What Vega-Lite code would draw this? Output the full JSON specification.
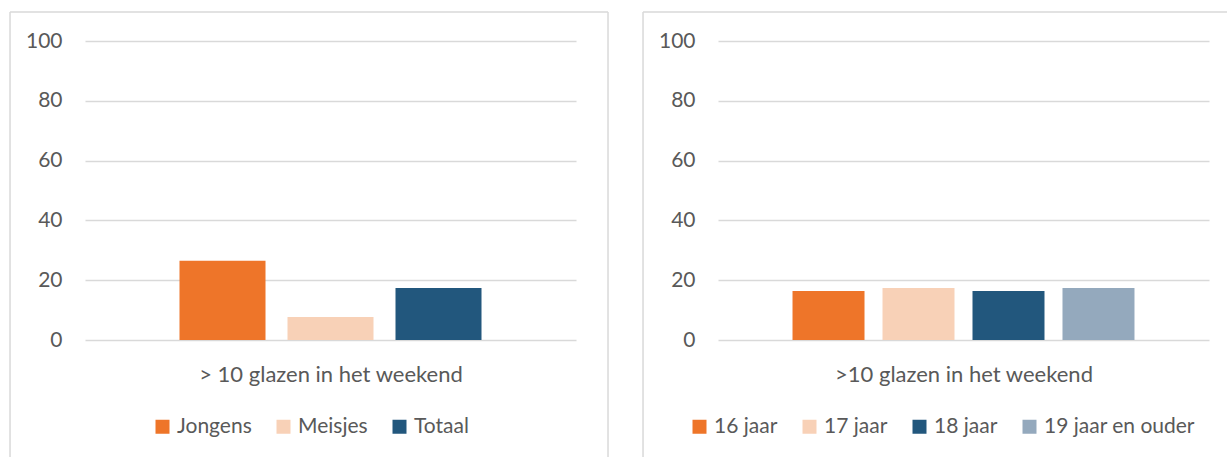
{
  "$schema": "https://vega.github.io/schema/vega-lite/v6.json",
  "padding": {"left": 9, "top": 11, "right": 0, "bottom": 0},
  "background": "white",
  "spacing": 33,
  "config": {
    "font": "Lato",
    "view": {"stroke": null},
    "axis": {"labelFont": "Lato", "labelColor": "#595959", "labelFontSize": 21, "ticks": false, "domain": false,
             "titleFont": "Lato", "titleColor": "#595959", "titleFontSize": 22, "titleFontWeight": "normal"},
    "legend": {"labelFont": "Lato", "labelColor": "#595959", "labelFontSize": 21}
  },
  "resolve": {"scale": {"color": "independent", "y": "independent"}, "legend": {"color": "independent"}},
  "hconcat": [
    {
      "width": 491,
      "height": 299,
      "resolve": {"scale": {"x": "independent"}},
      "layer": [
        {
          "data": {"values": [
            {"groep": "Jongens", "pct": 26.5},
            {"groep": "Meisjes", "pct": 7.7},
            {"groep": "Totaal", "pct": 17.4}
          ]},
          "mark": {"type": "bar"},
          "encoding": {
            "x": {"field": "groep", "type": "nominal", "sort": ["Jongens", "Meisjes", "Totaal"],
                  "title": "> 10 glazen in het weekend",
                  "scale": {"paddingOuter": 0.875, "paddingInner": 0.2037},
                  "axis": {"labels": false, "titlePadding": 24, "grid": false}},
            "y": {"field": "pct", "type": "quantitative", "title": null,
                  "scale": {"domain": [0, 100]},
                  "axis": {"values": [0, 20, 40, 60, 80, 100], "labelPadding": 23, "grid": true, "gridColor": "#d9d9d9", "gridWidth": 1.5}},
            "color": {"field": "groep", "type": "nominal", "sort": ["Jongens", "Meisjes", "Totaal"],
                      "scale": {"domain": ["Jongens", "Meisjes", "Totaal"], "range": ["#EE7529", "#F8D1B7", "#22577D"]},
                      "legend": {"orient": "none", "direction": "horizontal", "legendX": 67, "legendY": 375, "title": null,
                                 "symbolType": "square", "symbolSize": 196, "symbolStrokeWidth": 0, "labelOffset": 4, "columnPadding": 21}}
          }
        },
        {
          "data": {"values": [{}]},
          "mark": {"type": "rule", "color": "#d9d9d9", "strokeWidth": 1.5},
          "encoding": {
            "x": {"datum": -0.1527, "type": "quantitative", "scale": {"domain": [0, 1]}, "axis": null},
            "x2": {"datum": 1.0652},
            "y": {"datum": 109.7, "type": "quantitative"}
          }
        },
        {
          "data": {"values": [{}]},
          "mark": {"type": "rule", "color": "#d9d9d9", "strokeWidth": 1.5},
          "encoding": {
            "x": {"datum": -0.1527, "type": "quantitative", "scale": {"domain": [0, 1]}, "axis": null},
            "y": {"datum": 109.7, "type": "quantitative"},
            "y2": {"datum": -39.1}
          }
        },
        {
          "data": {"values": [{}]},
          "mark": {"type": "rule", "color": "#d9d9d9", "strokeWidth": 1.5},
          "encoding": {
            "x": {"datum": 1.0652, "type": "quantitative", "scale": {"domain": [0, 1]}, "axis": null},
            "y": {"datum": 109.7, "type": "quantitative"},
            "y2": {"datum": -39.1}
          }
        }
      ]
    },
    {
      "width": 491,
      "height": 299,
      "resolve": {"scale": {"x": "independent"}},
      "layer": [
        {
          "data": {"values": [
            {"groep": "16 jaar", "pct": 16.4},
            {"groep": "17 jaar", "pct": 17.4},
            {"groep": "18 jaar", "pct": 16.4},
            {"groep": "19 jaar en ouder", "pct": 17.4}
          ]},
          "mark": {"type": "bar"},
          "encoding": {
            "x": {"field": "groep", "type": "nominal", "sort": ["16 jaar", "17 jaar", "18 jaar", "19 jaar en ouder"],
                  "title": ">10 glazen in het weekend",
                  "scale": {"paddingOuter": 0.828, "paddingInner": 0.2},
                  "axis": {"labels": false, "titlePadding": 24, "grid": false}},
            "y": {"field": "pct", "type": "quantitative", "title": null,
                  "scale": {"domain": [0, 100]},
                  "axis": {"values": [0, 20, 40, 60, 80, 100], "labelPadding": 23, "grid": true, "gridColor": "#d9d9d9", "gridWidth": 1.5}},
            "color": {"field": "groep", "type": "nominal", "sort": ["16 jaar", "17 jaar", "18 jaar", "19 jaar en ouder"],
                      "scale": {"domain": ["16 jaar", "17 jaar", "18 jaar", "19 jaar en ouder"], "range": ["#EE7529", "#F8D1B7", "#22577D", "#94A9BD"]},
                      "legend": {"orient": "none", "direction": "horizontal", "legendX": -29, "legendY": 375, "title": null,
                                 "symbolType": "square", "symbolSize": 196, "symbolStrokeWidth": 0, "labelOffset": 4, "columnPadding": 21}}
          }
        },
        {
          "data": {"values": [{}]},
          "mark": {"type": "rule", "color": "#d9d9d9", "strokeWidth": 1.5},
          "encoding": {
            "x": {"datum": -0.1527, "type": "quantitative", "scale": {"domain": [0, 1]}, "axis": null},
            "x2": {"datum": 1.0387},
            "y": {"datum": 109.7, "type": "quantitative"}
          }
        },
        {
          "data": {"values": [{}]},
          "mark": {"type": "rule", "color": "#d9d9d9", "strokeWidth": 1.5},
          "encoding": {
            "x": {"datum": -0.1527, "type": "quantitative", "scale": {"domain": [0, 1]}, "axis": null},
            "y": {"datum": 109.7, "type": "quantitative"},
            "y2": {"datum": -39.1}
          }
        }
      ]
    }
  ]
}
